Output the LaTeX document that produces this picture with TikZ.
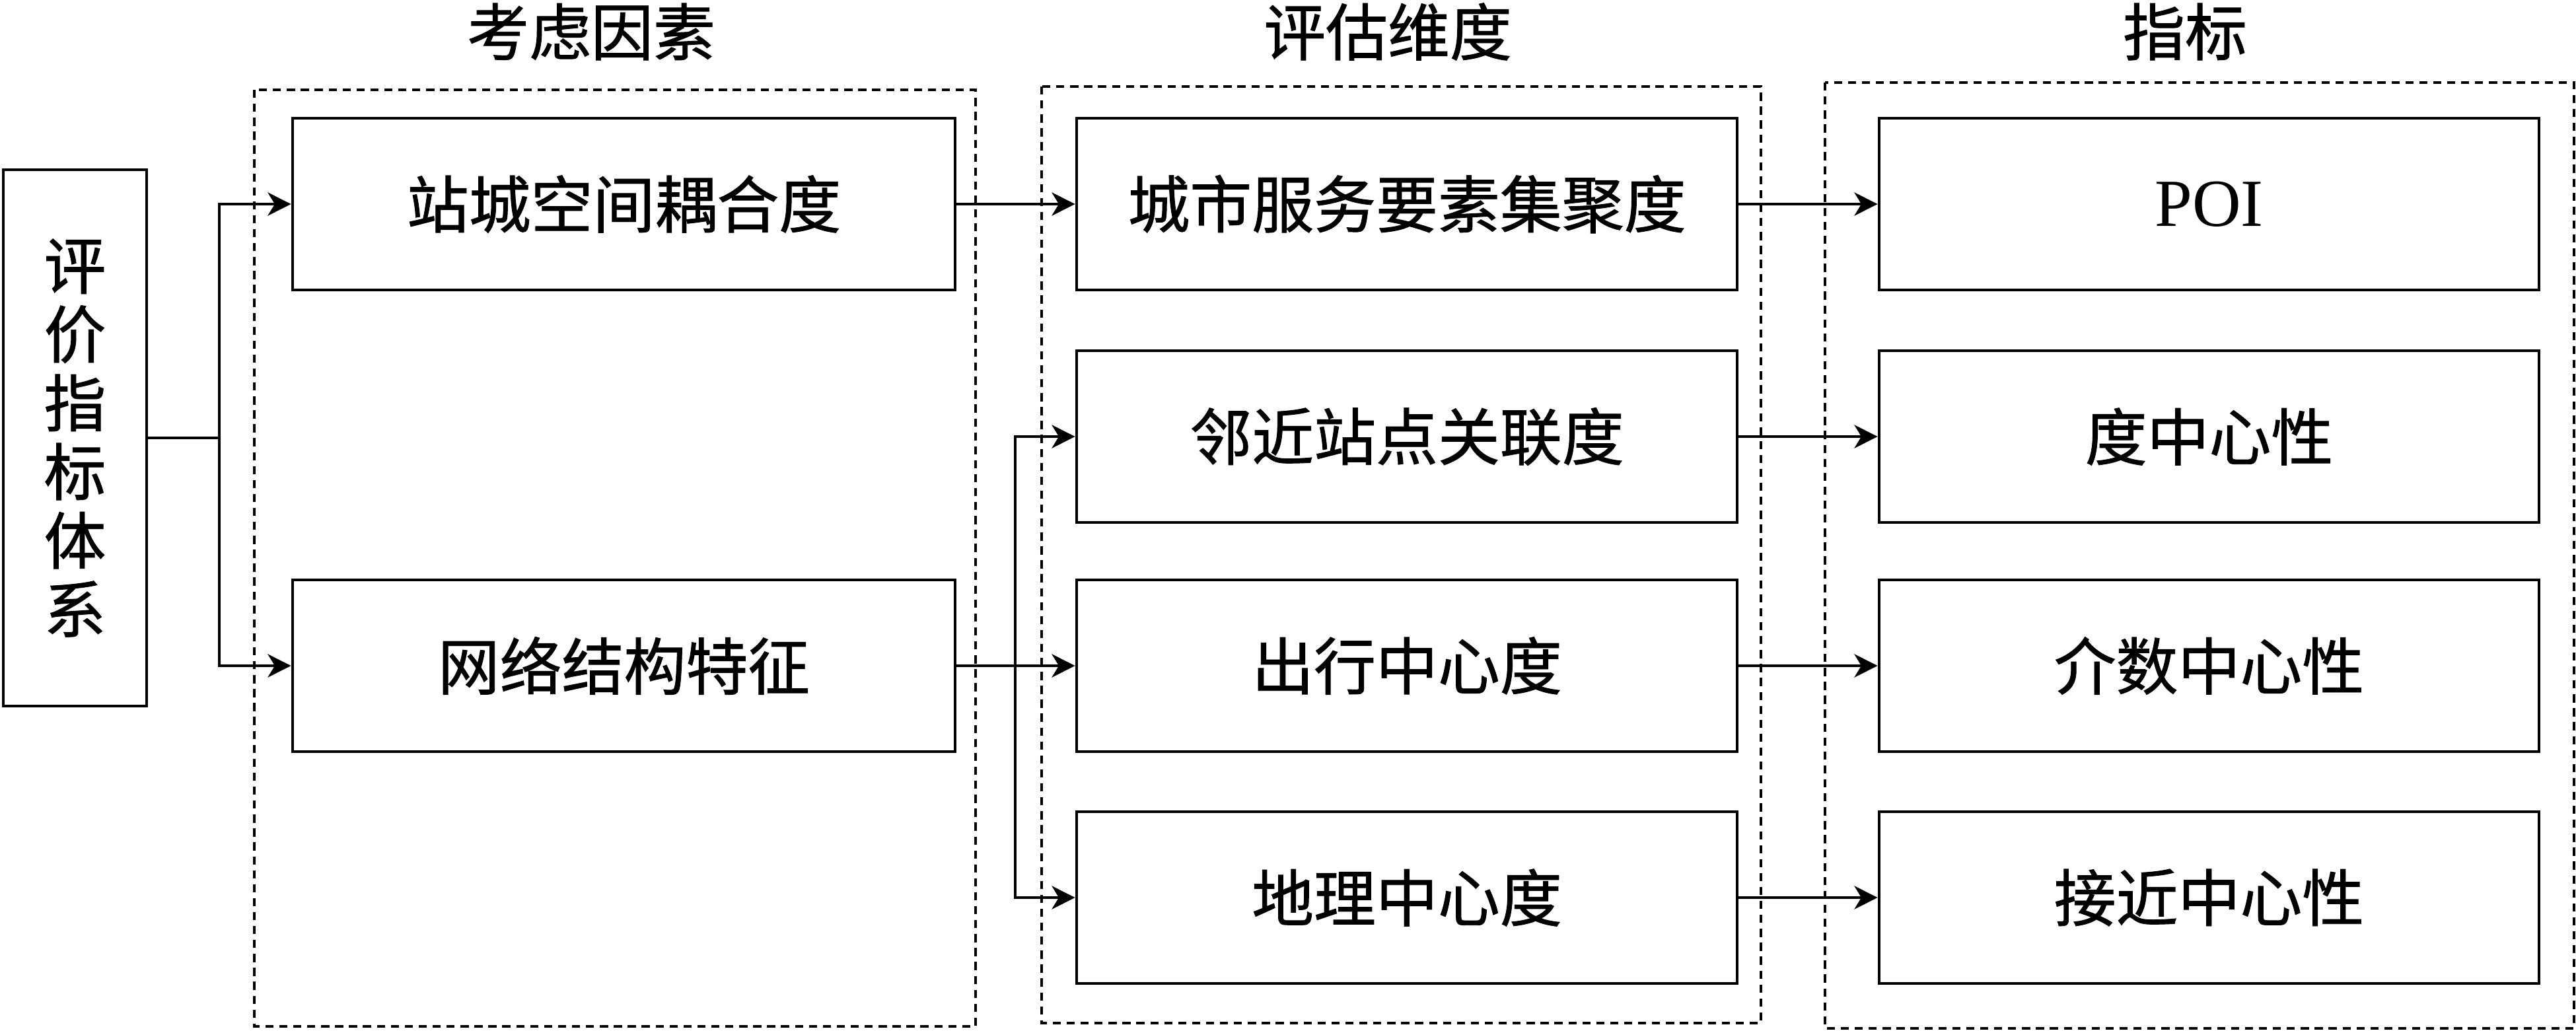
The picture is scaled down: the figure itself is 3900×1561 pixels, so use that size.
\documentclass[tikz,border=0pt]{standalone}
\usepackage{fontspec}
\setmainfont{Liberation Serif}
\newfontfamily\cjk[FakeBold=1]{Noto Sans CJK SC}
\usetikzlibrary{arrows.meta}
\begin{document}
\begin{tikzpicture}[x=0.01cm,y=-0.01cm,
  box/.style={draw, line width=1.2pt, minimum width=10cm, minimum height=2.6cm, inner sep=0pt,
    font=\cjk\fontsize{26.7pt}{29.6pt}\selectfont},
  grp/.style={draw, line width=1pt, dash pattern=on 3.5pt off 2.5pt},
  arr/.style={-{Stealth[length=10pt,width=10pt,inset=3pt]}, line width=1.2pt},
  ln/.style={line width=1.2pt},
  ttl/.style={font=\cjk\fontsize{26.7pt}{29.6pt}\selectfont, inner sep=0pt}]
\fill[white] (0,0) rectangle (3900,1561);
\useasboundingbox (0,0) rectangle (3900,1561);

% group frames
\draw[grp] (385,136) rectangle (1477,1554);
\draw[grp] (1577,131) rectangle (2666,1549);
\draw[grp] (2763,125) rectangle (3897,1557);

% titles
\node[ttl] (t1) at (895,48) {考虑因素};
\node[ttl] (t2) at (2101,48) {评估维度};
\node[ttl] (t3) at (3308,48) {指标};

% left box
\node[box, minimum width=2.17cm, minimum height=8.12cm, align=center] (eval) at (113.5,663)
  {评\\价\\指\\标\\体\\系};

% factors
\node[box, minimum width=10.03cm] (f1) at (944.5,309) {站城空间耦合度};
\node[box, minimum width=10.03cm] (f2) at (944.5,1008) {网络结构特征};

% dimensions
\node[box] (m1) at (2130,309) {城市服务要素集聚度};
\node[box] (m2) at (2130,661) {邻近站点关联度};
\node[box] (m3) at (2130,1008) {出行中心度};
\node[box] (m4) at (2130,1359) {地理中心度};

% indicators
\node[box, minimum width=9.99cm] (r1) at (3344.5,309) {\rmfamily\fontsize{29pt}{32pt}\selectfont POI};
\node[box, minimum width=9.99cm] (r2) at (3344.5,661) {度中心性};
\node[box, minimum width=9.99cm] (r3) at (3344.5,1008) {介数中心性};
\node[box, minimum width=9.99cm] (r4) at (3344.5,1359) {接近中心性};

% connectors
\coordinate (j1) at (332,663);
\draw[ln] (eval.east) -- (j1);
\draw[arr] (j1) |- (f1.west);
\draw[arr] (j1) |- (f2.west);

\draw[arr] (f1.east) -- (m1.west);

\coordinate (j2) at (1537,1008);
\draw[ln] (f2.east) -- (j2);
\draw[arr] (j2) |- (m2.west);
\draw[arr] (j2) -- (m3.west);
\draw[arr] (j2) |- (m4.west);

\draw[arr] (m1.east) -- (r1.west);
\draw[arr] (m2.east) -- (r2.west);
\draw[arr] (m3.east) -- (r3.west);
\draw[arr] (m4.east) -- (r4.west);
\end{tikzpicture}
\end{document}
